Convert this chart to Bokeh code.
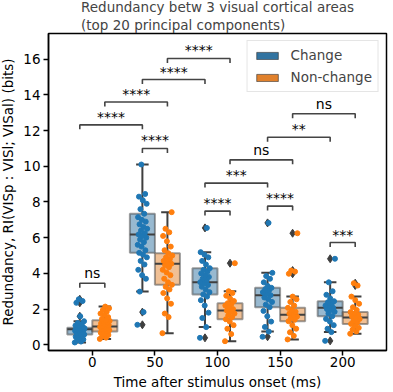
import numpy as np
from bokeh.plotting import figure
from bokeh.models import Range1d, FixedTicker, Legend, LegendItem
from bokeh.core.properties import value
from bokeh.embed import file_html
from bokeh.resources import INLINE

# ---------------- data ----------------
time_labels = ["0", "50", "100", "150", "200"]
conditions = ["Change", "Non-change"]

# per-group box statistics (one entry per time point)
change_q1 = [0.58, 5.15, 2.82, 2.11, 1.60]
change_med = [0.87, 6.18, 3.51, 2.78, 2.07]
change_q3 = [0.95, 7.34, 4.29, 3.19, 2.44]
change_lo = [0.13, 2.98, 0.99, 0.74, 0.71]
change_hi = [1.32, 10.10, 5.19, 4.03, 3.50]

nonchange_q1 = [0.74, 3.36, 1.43, 1.32, 1.17]
nonchange_med = [1.02, 4.54, 1.92, 1.68, 1.53]
nonchange_q3 = [1.38, 5.13, 2.33, 2.07, 1.83]
nonchange_lo = [0.33, 0.65, 0.20, 0.30, 0.62]
nonchange_hi = [2.14, 7.43, 3.00, 2.70, 2.70]

# outliers
change_out = [[1.60, 2.35, 2.45, 2.55], [1.83, 1.12], [6.55, 0.39], [6.83, 0.45], [4.82, 0.22]]
nonchange_out = [[], [], [4.57], [6.25, 4.16, 3.98], [3.45, 3.32]]

# individual session values (strip plot)
change_pts = [
    [0.13, 0.18, 0.25, 0.30, 0.38, 0.45, 0.50, 0.55, 0.58, 0.62, 0.66, 0.70, 0.74, 0.78, 0.80,
     0.83, 0.85, 0.87, 0.88, 0.90, 0.91, 0.92, 0.93, 0.95, 0.98, 1.02, 1.08, 1.15, 1.22, 1.32,
     1.60, 2.35, 2.45, 2.55],
    [1.12, 1.83, 2.98, 3.70, 3.90, 4.20, 4.50, 4.70, 4.90, 5.05, 5.15, 5.30, 5.50, 5.60, 5.75,
     5.90, 6.00, 6.10, 6.18, 6.25, 6.40, 6.50, 6.60, 6.75, 6.90, 7.00, 7.15, 7.34, 7.60, 7.90,
     8.10, 8.30, 8.45, 10.10],
    [0.39, 0.99, 1.50, 1.80, 2.20, 2.50, 2.70, 2.82, 2.95, 3.10, 3.25, 3.35, 3.45, 3.51, 3.60,
     3.70, 3.80, 3.90, 4.00, 4.10, 4.20, 4.29, 4.50, 4.70, 4.90, 5.05, 5.19, 6.55],
    [0.45, 0.74, 1.00, 1.30, 1.60, 1.90, 2.11, 2.25, 2.40, 2.55, 2.65, 2.78, 2.85, 2.95, 3.05,
     3.12, 3.19, 3.30, 3.50, 3.70, 3.85, 4.03, 6.83],
    [0.22, 0.71, 0.90, 1.10, 1.30, 1.45, 1.60, 1.75, 1.85, 1.95, 2.00, 2.07, 2.15, 2.20, 2.30,
     2.38, 2.44, 2.60, 2.80, 3.00, 3.50, 4.82],
]
nonchange_pts = [
    [0.33, 0.40, 0.48, 0.55, 0.62, 0.68, 0.74, 0.78, 0.82, 0.86, 0.90, 0.94, 0.98, 1.00, 1.02,
     1.05, 1.10, 1.15, 1.20, 1.25, 1.30, 1.34, 1.38, 1.45, 1.55, 1.65, 1.75, 1.85, 1.95, 2.05, 2.14],
    [0.65, 1.55, 1.75, 2.30, 2.60, 2.90, 3.10, 3.25, 3.36, 3.50, 3.70, 3.90, 4.05, 4.20, 4.35,
     4.45, 4.54, 4.60, 4.70, 4.80, 4.90, 5.00, 5.13, 5.30, 5.50, 5.80, 6.10, 6.30, 6.50, 7.43],
    [0.20, 0.60, 0.90, 1.10, 1.30, 1.43, 1.55, 1.65, 1.75, 1.85, 1.92, 2.00, 2.10, 2.20, 2.30,
     2.33, 2.45, 2.60, 2.75, 2.90, 3.00, 4.57],
    [0.30, 0.50, 0.70, 0.90, 1.10, 1.32, 1.40, 1.50, 1.58, 1.68, 1.75, 1.85, 1.95, 2.07, 2.20,
     2.40, 2.55, 2.70, 3.98, 4.10, 4.16, 6.25],
    [0.62, 0.75, 0.85, 0.95, 1.05, 1.17, 1.25, 1.35, 1.45, 1.53, 1.60, 1.68, 1.75, 1.83, 1.95,
     2.10, 2.30, 2.50, 2.70, 3.32, 3.45],
]

# significance annotations: (time index, condition index) pairs
bracket_from = [(0, 0), (1, 0), (0, 1), (1, 0), (1, 1), (2, 0), (2, 0), (2, 1), (3, 0), (3, 0), (3, 1), (4, 0), (0, 0)]
bracket_to = [(1, 0), (1, 1), (1, 1), (2, 0), (2, 1), (2, 1), (3, 0), (3, 1), (3, 1), (4, 0), (4, 1), (4, 1), (0, 1)]
bracket_y = [12.32, 11.00, 13.60, 14.86, 16.04, 7.49, 9.06, 10.36, 7.77, 11.63, 12.94, 5.73, 3.45]
bracket_text = ["****", "****", "****", "****", "****", "****", "***", "ns", "****", "**", "ns", "***", "ns"]

# ---------------- styling ----------------
FONT = "DejaVu Sans"
C_BLUE, C_ORANGE = "#1f77b4", "#ff7f0e"
F_BLUE, F_ORANGE = "#3274a1", "#e1812c"
DARK = "#3f3f3f"
BOX_W = 0.4
CAP_W = 0.2
TIP = 0.25
OFFS = [-0.2, 0.2]

p = figure(width=391, height=395, output_backend="svg", toolbar_location=None,
           x_range=Range1d(-0.7, 4.7), y_range=Range1d(-0.32, 17.44),
           min_border_left=46, min_border_right=2, min_border_top=31, min_border_bottom=42)
p.styles = {"margin-left": "-3px", "margin-top": "-3px", "margin-bottom": "-10px"}

p.title.text = "Redundancy betw 3 visual cortical areas\n(top 20 principal components)"
p.title.align = "center"
p.title.text_font = FONT
p.title.text_font_size = "13.5px"
p.title.text_font_style = "normal"
p.title.text_line_height = 1.15
p.title.standoff = 0
p.title.offset = 0

p.xgrid.visible = False
p.ygrid.visible = False
p.outline_line_color = "black"
p.outline_line_width = 1.5
p.background_fill_color = "white"
p.border_fill_color = "white"

p.xaxis.ticker = FixedTicker(ticks=list(range(len(time_labels))))
p.xaxis.major_label_overrides = {i: t for i, t in enumerate(time_labels)}
p.yaxis.ticker = FixedTicker(ticks=[0, 2, 4, 6, 8, 10, 12, 14, 16])
p.xaxis.axis_label = "Time after stimulus onset (ms)"
p.yaxis.axis_label = "Redundancy, RI(VISp : VISl; VISal) (bits)"
for ax in (p.xaxis[0], p.yaxis[0]):
    ax.axis_line_width = 1.5
    ax.axis_line_color = "black"
    ax.major_tick_line_width = 1.5
    ax.major_tick_out = 5
    ax.major_tick_in = 0
    ax.minor_tick_line_color = None
    ax.major_label_text_font = FONT
    ax.major_label_text_font_size = "13.5px"
    ax.major_label_text_color = "black"
    ax.axis_label_text_font = FONT
    ax.axis_label_text_font_size = "13.5px"
    ax.axis_label_text_font_style = "normal"
    ax.axis_label_text_color = "black"
p.xaxis.major_label_standoff = 1
p.xaxis.axis_label_standoff = 4
p.yaxis.major_label_standoff = 3
p.yaxis.axis_label_standoff = 4

groups = [
    (0, C_BLUE, F_BLUE, change_q1, change_med, change_q3, change_lo, change_hi, change_out, change_pts),
    (1, C_ORANGE, F_ORANGE, nonchange_q1, nonchange_med, nonchange_q3, nonchange_lo, nonchange_hi, nonchange_out, nonchange_pts),
]

legend_items = []
for ci, pc, fc, q1, med, q3, lo, hi, outs, pts in groups:
    xs = [t + OFFS[ci] for t in range(len(time_labels))]
    # whiskers
    p.segment(x0=xs, y0=q3, x1=xs, y1=hi, line_color=DARK, line_width=2)
    p.segment(x0=xs, y0=q1, x1=xs, y1=lo, line_color=DARK, line_width=2)
    p.segment(x0=[x - CAP_W / 2 for x in xs], y0=hi, x1=[x + CAP_W / 2 for x in xs], y1=hi, line_color=DARK, line_width=2)
    p.segment(x0=[x - CAP_W / 2 for x in xs], y0=lo, x1=[x + CAP_W / 2 for x in xs], y1=lo, line_color=DARK, line_width=2)
    # boxes
    p.vbar(x=xs, width=BOX_W, top=q3, bottom=q1, fill_color=fc, fill_alpha=0.5,
           line_color=DARK, line_alpha=0.5, line_width=2)
    p.segment(x0=[x - BOX_W / 2 for x in xs], y0=med, x1=[x + BOX_W / 2 for x in xs], y1=med,
              line_color=DARK, line_width=2)
    # outliers
    ox, oy = [], []
    for t, vals in enumerate(outs):
        ox += [xs[t]] * len(vals)
        oy += vals
    p.scatter(x=ox, y=oy, marker="diamond", size=8, fill_color=DARK, line_color=DARK)
    # strip points
    sx, sy = [], []
    for t, vals in enumerate(pts):
        for j, v in enumerate(vals):
            jit = (((j * 0.6180339887) % 1.0) - 0.5) * 0.16
            sx.append(xs[t] + jit)
            sy.append(v)
    p.scatter(x=sx, y=sy, size=5, fill_color=pc, line_color=pc)
    # legend swatch (not drawn in the plot area)
    r = p.quad(left=[np.nan], right=[np.nan], top=[np.nan], bottom=[np.nan],
               fill_color=fc, line_color="#2a2a2a", line_width=0.6)
    legend_items.append(LegendItem(label=conditions[ci], renderers=[r]))

# significance brackets
mxs, mys, tx, ty, tt = [], [], [], [], []
for (a, b, y, txt) in zip(bracket_from, bracket_to, bracket_y, bracket_text):
    x1 = a[0] + OFFS[a[1]]
    x2 = b[0] + OFFS[b[1]]
    mxs.append([x1, x1, x2, x2])
    mys.append([y - TIP, y, y, y - TIP])
    tx.append((x1 + x2) / 2)
    ty.append(y + (0.12 if txt == "ns" else 0.0))
    tt.append(txt)
p.multi_line(xs=mxs, ys=mys, line_color="#444444", line_width=1.6)
p.text(x=tx, y=ty, text=tt, text_align="center", text_baseline="bottom",
       text_font=value(FONT), text_font_size="14px", text_color="black")

legend = Legend(items=legend_items, location="top_right", margin=7, padding=6,
                spacing=6, label_height=14, glyph_height=9, glyph_width=27,
                label_standoff=10, label_text_font=FONT, label_text_font_size="13.5px",
                border_line_color="#cccccc", border_line_width=1, background_fill_alpha=0.9)
p.add_layout(legend)

open("out.html", "w").write(file_html(p, INLINE))
